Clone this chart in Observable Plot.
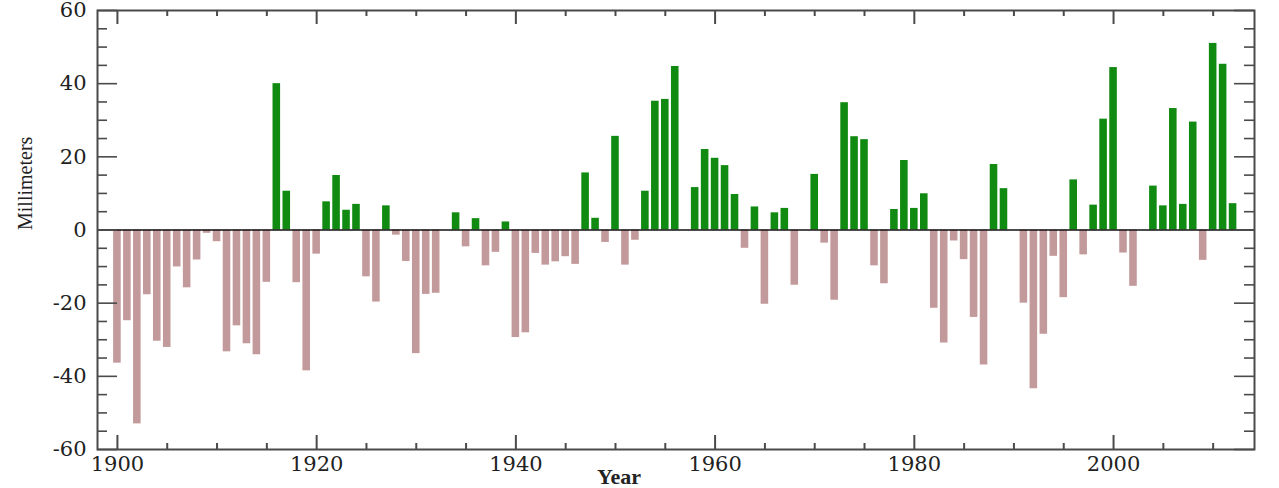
<!DOCTYPE html>
<html>
<head>
<meta charset="utf-8">
<script src="https://cdn.jsdelivr.net/npm/d3@7"></script>
<script src="https://cdn.jsdelivr.net/npm/@observablehq/plot@0.6"></script>
<style>
  html, body { margin: 0; padding: 0; background: #fff; }
</style>
</head>
<body>
<div id="chart"></div>
<script>
const years = [
  1900,1901,1902,1903,1904,1905,1906,1907,1908,1909,
  1910,1911,1912,1913,1914,1915,1916,1917,1918,1919,
  1920,1921,1922,1923,1924,1925,1926,1927,1928,1929,
  1930,1931,1932,1933,1934,1935,1936,1937,1938,1939,
  1940,1941,1942,1943,1944,1945,1946,1947,1948,1949,
  1950,1951,1952,1953,1954,1955,1956,1957,1958,1959,
  1960,1961,1962,1963,1964,1965,1966,1967,1968,1969,
  1970,1971,1972,1973,1974,1975,1976,1977,1978,1979,
  1980,1981,1982,1983,1984,1985,1986,1987,1988,1989,
  1990,1991,1992,1993,1994,1995,1996,1997,1998,1999,
  2000,2001,2002,2003,2004,2005,2006,2007,2008,2009,
  2010,2011,2012
];
const millimeters = [
  -36.4,-24.8,-53.0,-17.7,-30.4,-32.1,-10.1,-15.8,-8.2,-0.9,
  -3.2,-33.3,-26.2,-31.1,-34.1,-14.3,40.0,10.6,-14.4,-38.5,
  -6.6,7.7,14.9,5.4,7.0,-12.8,-19.7,6.6,-1.4,-8.6,
  -33.8,-17.6,-17.3,0,4.7,-4.6,3.1,-9.8,-6.1,2.2,
  -29.4,-28.1,-6.4,-9.6,-8.7,-7.3,-9.4,15.6,3.2,-3.4,
  25.6,-9.6,-2.8,10.6,35.2,35.7,44.7,0,11.6,22.0,
  19.6,17.6,9.7,-5.0,6.3,-20.3,4.7,5.9,-15.1,0,
  15.2,-3.6,-19.2,34.8,25.5,24.7,-9.8,-14.7,5.6,19.0,
  5.9,9.9,-21.4,-30.9,-3.0,-8.1,-23.9,-36.9,17.9,11.3,
  0,-20.0,-43.4,-28.5,-7.2,-18.5,13.7,-6.8,6.8,30.3,
  44.4,-6.3,-15.4,0,12.0,6.6,33.2,7.0,29.5,-8.3,
  51.0,45.3,7.2
];
const majorYearTicks = [1900,1920,1940,1960,1980,2000];
const minorYearTicks = [1905,1910,1915,1925,1930,1935,1945,1950,1955,1965,1970,1975,1985,1990,1995,2005,2010];
const majorValueTicks = [-60,-40,-20,0,20,40,60];
const minorValueTicks = [-55,-50,-45,-35,-30,-25,-15,-10,-5,5,10,15,25,30,35,45,50,55];
const xLabel = "Year";
const yLabel = "Millimeters";

const data = years.map((year, i) => ({year, value: millimeters[i]}));

const W = 1279, H = 488;
const mL = 97, mR = 25, mT = 10, mB = 39;
const innerW = W - mL - mR, innerH = H - mT - mB;
const posColor = "#118a11";
const negColor = "#c39a9b";
const frameColor = "#4a4a4a";

const chart = Plot.plot({
  width: W,
  height: H,
  marginLeft: mL,
  marginRight: mR,
  marginTop: mT,
  marginBottom: mB,
  style: {fontFamily: "'DejaVu Serif', 'Liberation Serif', serif", fontSize: "21px", background: "#fff", color: "#222", overflow: "visible"},
  x: {domain: [1898, 2014.15], axis: null},
  y: {domain: [-60, 60], axis: null},
  marks: [
    Plot.rectY(data, {
      x1: d => d.year - 0.38,
      x2: d => d.year + 0.38,
      y1: 0,
      y2: "value",
      fill: d => d.value >= 0 ? posColor : negColor
    }),
    Plot.ruleY([0], {stroke: "#111", strokeWidth: 1.6}),
    // inward ticks: bottom
    Plot.ruleX(majorYearTicks, {stroke: frameColor, strokeWidth: 2, insetTop: innerH - 14}),
    Plot.ruleX(minorYearTicks, {stroke: frameColor, strokeWidth: 2, insetTop: innerH - 6}),
    // top
    Plot.ruleX(majorYearTicks, {stroke: frameColor, strokeWidth: 2, insetBottom: innerH - 14}),
    Plot.ruleX(minorYearTicks, {stroke: frameColor, strokeWidth: 2, insetBottom: innerH - 6}),
    // left
    Plot.ruleY(majorValueTicks, {stroke: frameColor, strokeWidth: 1.6, insetRight: innerW - 20}),
    Plot.ruleY(minorValueTicks, {stroke: frameColor, strokeWidth: 1.6, insetRight: innerW - 10}),
    // right
    Plot.ruleY(majorValueTicks, {stroke: frameColor, strokeWidth: 1.6, insetLeft: innerW - 20}),
    Plot.ruleY(minorValueTicks, {stroke: frameColor, strokeWidth: 1.6, insetLeft: innerW - 10}),
    Plot.frame({stroke: frameColor, strokeWidth: 2}),
    Plot.axisX({anchor: "bottom", ticks: majorYearTicks, tickSize: 0, tickPadding: 7, tickFormat: d => String(d), label: null, fill: "#222"}),
    Plot.axisY({anchor: "left", ticks: majorValueTicks, tickSize: 0, tickPadding: 11, tickFormat: d => String(d), label: null, fill: "#222"}),
    Plot.text([xLabel], {frameAnchor: "bottom", dx: -57, dy: 34, fontSize: 22, fontWeight: "bold", fill: "#222", fontFamily: "'Liberation Serif', serif"}),
    Plot.text([yLabel], {frameAnchor: "left", rotate: -90, dx: -72, fontSize: 20, fill: "#222", fontFamily: "'Liberation Serif', serif"})
  ]
});
document.getElementById("chart").appendChild(chart);
</script>
</body>
</html>
